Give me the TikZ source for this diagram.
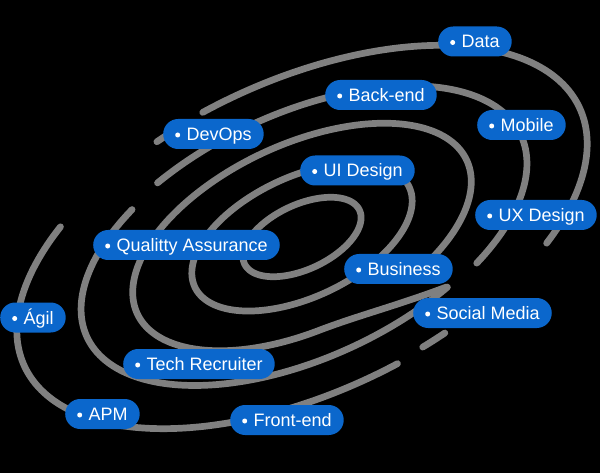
\documentclass[tikz,border=0pt]{standalone}
\usepackage{fontspec}
\setmainfont{Liberation Sans}
\definecolor{lblue}{RGB}{11,103,204}
\definecolor{ringgray}{RGB}{128,128,128}
\newcommand{\ringarc}[3]{%
  \draw[ring] plot[domain=#2:#3, samples=160, variable=\t]
    ({302+#1*(55.83*cos(\t)-13.27*sin(\t))},{237-#1*(26.03*cos(\t)+28.46*sin(\t))});}
\newcommand{\bul}{\tikz[baseline=-5.5pt,x=1pt,y=1pt]\fill[white] (0,0) circle (2.5pt);\hspace{6.5pt}}
\begin{document}
\begin{tikzpicture}[x=1pt,y=-1pt,
  ring/.style={draw=ringgray, line width=6.7pt, line cap=round, line join=round},
  lbl/.style={fill=lblue, text=white, rounded corners=15pt, minimum height=30pt,
    inner xsep=12pt, inner ysep=0pt, text height=13pt, text depth=0pt,
    anchor=west, font=\fontsize{18}{20}\selectfont}]
\useasboundingbox (0,0) rectangle (600,473);
\fill[black] (0,0) rectangle (600,473);
% inner closed rings
\ringarc{1.03}{0}{360}
\ringarc{1.92}{0}{360}
% third ring, drifting outward at the lower right
\draw[ring] plot[domain=-63:297.8, samples=240, variable=\t]
  ({302+(2.95+0.89*(max(0,(\t-262)/36))^2)*(55.83*cos(\t)-13.27*sin(\t))},
   {237-(2.95+0.89*(max(0,(\t-262)/36))^2)*(26.03*cos(\t)+28.46*sin(\t))});
% fourth ring
\ringarc{3.92}{-52.4}{116.6}
\ringarc{3.85}{126.9}{297.8}
% outer ring
\ringarc{4.97}{-44.3}{97}
\ringarc{4.93}{102}{107.5}
\ringarc{4.97}{134.5}{276.2}
\ringarc{4.91}{282}{287.1}
% labels
\node[lbl] (data)     at (438,41.5)  {\bul Data};
\node[lbl] (backend)  at (325,95)    {\bul Back-end};
\node[lbl] (mobile)   at (477,125)   {\bul Mobile};
\node[lbl] (devops)   at (163,134)   {\bul DevOps};
\node[lbl] (uidesign) at (300,170.5) {\bul UI Design};
\node[lbl] (uxdesign) at (475,215)   {\bul UX Design};
\node[lbl] (qa)       at (93,245)    {\bul Qualitty Assurance};
\node[lbl] (business) at (344,269)   {\bul Business};
\node[lbl] (agil)     at (0,317.5)   {\bul Ágil};
\node[lbl] (social)   at (413,313)   {\bul Social Media};
\node[lbl] (tech)     at (123,364)   {\bul Tech Recruiter};
\node[lbl] (apm)      at (65,414)    {\bul APM};
\node[lbl] (frontend) at (230,420)   {\bul Front-end};
\end{tikzpicture}
\end{document}
